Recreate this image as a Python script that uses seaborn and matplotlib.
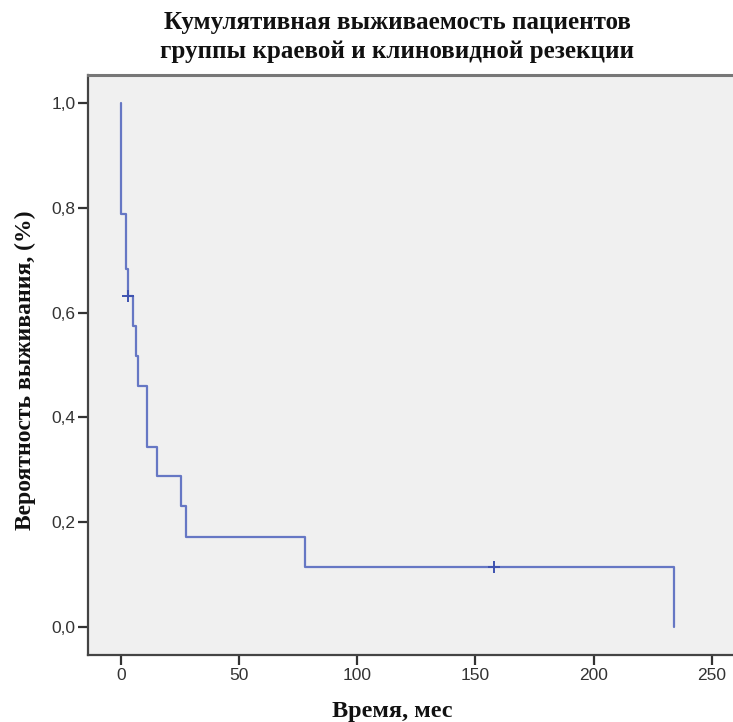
import matplotlib
matplotlib.use("Agg")
import matplotlib.pyplot as plt
import seaborn as sns
import pandas as pd

# Kaplan-Meier step points (time in months, cumulative survival)
times = [0, 0, 2.1, 3.1, 5.2, 6.2, 7.1, 11.0, 15.0, 25.2, 27.3, 78.0, 234.0]
survival = [1.0, 0.789, 0.684, 0.632, 0.574, 0.517, 0.459, 0.344, 0.287, 0.230, 0.172, 0.115, 0.0]
# censored observations
cens_times = [3.1, 158.0]
cens_surv = [0.632, 0.115]

x_ticks = [0, 50, 100, 150, 200, 250]
y_ticks = [0.0, 0.2, 0.4, 0.6, 0.8, 1.0]
y_tick_labels = ["0,0", "0,2", "0,4", "0,6", "0,8", "1,0"]

title = "Кумулятивная выживаемость пациентов\nгруппы краевой и клиновидной резекции"
xlabel = "Время, мес"
ylabel = "Вероятность выживания, (%)"

sns.set_theme(style="white")
plt.rcParams['font.family'] = ['Liberation Sans', 'DejaVu Sans']

fig = plt.figure(figsize=(7.33, 7.22), dpi=100)
ax = fig.add_axes([88/733, 67/722, 1 - 88/733, (655 - 75)/722])
ax.set_facecolor("#f0f0f0")

line_color = "#6677c4"
df = pd.DataFrame({"t": times, "s": survival})
sns.lineplot(data=df, x="t", y="s", estimator=None, sort=False,
             drawstyle="steps-post", color=line_color, linewidth=1.6, ax=ax)
cdf = pd.DataFrame({"t": cens_times, "s": cens_surv})
sns.scatterplot(data=cdf, x="t", y="s", marker="+", s=80, color="#3e52b0",
                linewidth=1.4, ax=ax, zorder=5)

ax.set_xlim(-14, 259)
ax.set_ylim(-0.054, 1.054)
ax.set_xticks(x_ticks)
ax.set_xticklabels([str(v) for v in x_ticks])
ax.set_yticks(y_ticks)
ax.set_yticklabels(y_tick_labels)
ax.tick_params(axis="both", direction="out", length=7.5, width=1.6, color="#333333",
               labelsize=12.5, labelcolor="#333333", pad=1.5,
               bottom=True, left=True)
ax.set_xlabel("")
ax.set_ylabel("")
for side in ["left", "bottom"]:
    ax.spines[side].set_color("#444444")
    ax.spines[side].set_linewidth(1.6)
ax.spines["top"].set_color("#777777")
ax.spines["top"].set_linewidth(2.2)
ax.spines["right"].set_visible(False)

serif = ['Liberation Serif', 'DejaVu Serif']
fig.text(397/733, 1 - 37/722, title, ha="center", va="center", family=serif,
         fontweight="bold", fontsize=18, linespacing=1.3, color="#111111")
fig.text(392/733, 1 - 711/722, xlabel, ha="center", va="center", family=serif,
         fontweight="bold", fontsize=17.5, color="#111111")
fig.text(25/733, 1 - 370/722, ylabel, ha="center", va="center", rotation=90,
         family=serif, fontweight="bold", fontsize=17, color="#111111")

fig.savefig("out.png", dpi=100)
